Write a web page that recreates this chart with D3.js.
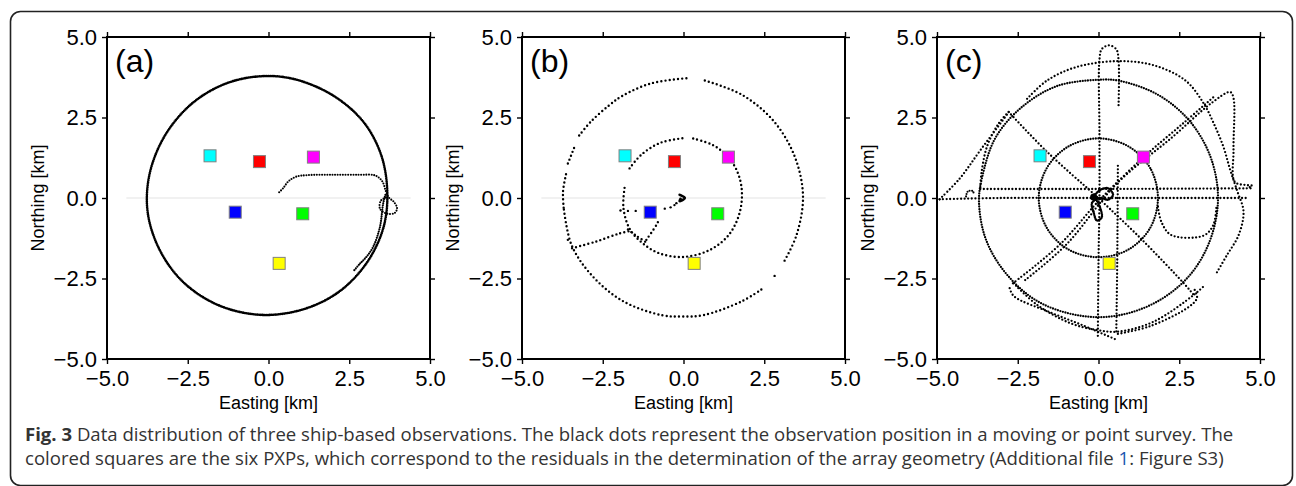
<!DOCTYPE html>
<html>
<head>
<meta charset="utf-8">
<script src="https://cdn.jsdelivr.net/npm/d3@7"></script>
<style>
  body { margin: 0; background: #fff; }
  svg { display: block; }
  .tick text { font-family: "Liberation Sans", Arial, Helvetica, sans-serif; }
</style>
</head>
<body>
<svg id="fig" width="1296" height="486"></svg>
<script>
// ---- data (km) ----
const AXIS_TICKS = [-5, -2.5, 0, 2.5, 5];
const PANEL_LABELS = ["(a)", "(b)", "(c)"];

// six PXPs (same in every panel)
const pxpEast  = [-1.81, -0.28, 1.39, -1.03, 1.06, 0.33];
const pxpNorth = [ 1.31,  1.13, 1.27, -0.44, -0.49, -2.03];
const pxpColors = ["#00ffff", "#ff0000", "#ff00ff", "#0000ff", "#00ff00", "#ffff00"];

// (a) moving survey
const aRing = [[3.68,0.10],[3.50,1.30],[2.95,2.35],[2.05,3.15],[0.95,3.65],[-0.05,3.79],[-1.25,3.58],
  [-2.35,2.95],[-3.20,1.95],[-3.68,0.75],[-3.74,-0.45],[-3.35,-1.65],[-2.60,-2.65],[-1.50,-3.35],
  [-0.20,-3.63],[1.10,-3.45],[2.20,-2.90],[3.05,-2.00],[3.55,-0.95]];
const aInnerPass = [[3.62,0.10],[3.55,-0.17],[3.45,-0.90],[3.24,-1.52],[3.03,-1.83],[2.83,-2.04],[2.65,-2.25]];
const aRunIn = [[0.33,0.18],[0.45,0.30],[0.62,0.52],[0.85,0.66],[1.20,0.71],[2.00,0.72],[2.80,0.72],
  [3.30,0.70],[3.52,0.52],[3.63,0.22],[3.72,0.02],[3.88,-0.12],[3.98,-0.32],[3.90,-0.47],[3.65,-0.48],
  [3.45,-0.33],[3.48,-0.08],[3.66,0.02]];

// (b) point survey
const bOuter1 = [[-3.71,-0.30],[-3.73,0.20],[-3.63,0.77]];
const bOuter2 = [[-3.58,1.07],[-3.37,1.60]];
const bOuter3 = [[-3.23,1.94],[-2.86,2.38],[-2.30,2.88],[-1.88,3.18],[-1.00,3.56],[0.09,3.72]];
const bOuter4 = [[0.66,3.65],[1.82,3.20],[2.80,2.38],[3.45,1.27],[3.70,0.05],[3.50,-1.15],[3.10,-2.00]];
const bOuter5 = [[2.41,-2.84],[1.82,-3.20],[0.61,-3.64],[-0.07,-3.68],[-0.67,-3.64],[-1.88,-3.20],
  [-2.86,-2.38],[-3.47,-1.45],[-3.71,-0.30]];
const bInner1 = [[-1.67,0.92],[-1.30,1.35],[-0.70,1.72],[0.09,1.87]];
const bInner2 = [[0.30,1.85],[0.90,1.65],[1.30,1.35],[1.62,0.92],[1.80,0.30],[1.74,-0.45],[1.40,-1.15],
  [0.80,-1.62],[0.00,-1.83],[-0.74,-1.72],[-1.26,-1.41],[-1.67,-0.95],[-1.86,-0.30],[-1.82,0.35]];
const bSpoke = [[-3.45,-1.56],[-2.70,-1.35],[-1.98,-1.10],[-1.62,-1.02]];
const bBundle1 = [[-1.72,-0.98],[-1.45,-1.18],[-1.15,-1.38]];
const bBundle2 = [[-1.15,-1.30],[-0.84,-0.84],[-0.78,-0.72]];
const bCentre = [[-0.12,0.10],[0.04,0.00],[-0.12,-0.10],[-0.08,0.00]];
const bStray = [[2.82,-2.42],[-1.95,-0.39],[-1.72,-0.40],[-1.48,-0.40],[-0.58,-0.33],[-0.40,-0.29],
  [-0.22,-0.16],[-0.28,-0.22],[-3.58,-1.30]];

// (c) moving survey with cross lines
const cRing = [[3.70,0.00],[3.47,1.27],[2.83,2.38],[1.85,3.20],[0.64,3.64],[-0.02,3.67],[-1.30,3.47],
  [-2.40,2.80],[-3.20,1.85],[-3.60,0.65],[-3.70,-0.10],[-3.50,-1.25],[-2.90,-2.30],[-1.90,-3.20],
  [-0.60,-3.65],[0.60,-3.65],[1.85,-3.20],[2.85,-2.37],[3.47,-1.27]];
const cInner = [[1.84,0.00],[1.60,0.93],[0.93,1.60],[0.00,1.85],[-0.93,1.60],[-1.60,0.93],[-1.85,0.00],
  [-1.60,-0.93],[-0.93,-1.60],[0.00,-1.84],[0.93,-1.60],[1.60,-0.93]];
const cWide = [[-2.21,3.08],[-1.59,3.65],[-0.67,4.07],[0.62,4.25],[1.71,4.12],[2.69,3.65],[3.26,2.93],
  [3.57,2.31],[3.87,1.58],[4.08,0.86],[4.30,0.20],[4.49,-0.42],[4.34,-1.15],[3.98,-1.77],[3.62,-2.39]];
const cHairpin = [[-0.02,-4.28],[0.00,-2.00],[0.03,0.00],[0.03,2.00],[0.03,4.30],[0.10,4.62],[0.32,4.74],
  [0.55,4.62],[0.62,4.30],[0.62,2.83]];
const cNorthSouth = [[0.60,1.00],[0.58,-2.00],[0.55,-4.20]];
const cEastWest1 = [[-3.66,0.28],[0.00,0.28],[4.72,0.30]];
const cEastWest2 = [[-4.92,-0.04],[-3.00,0.00],[0.00,0.00],[4.60,0.00]];
const cFlank = [[-4.92,-0.04],[-4.30,0.60],[-3.66,1.48],[-2.78,2.67],[-3.10,2.30],[-3.45,1.60],
  [-3.62,0.80],[-3.66,0.28]];
const cHook = [[-4.10,0.05],[-4.05,0.20],[-3.90,0.22],[-3.85,0.10]];
const cDiagNW = [[-2.78,2.67],[-1.59,1.43],[-0.15,0.13],[0.10,-0.10],[1.30,-1.25],[2.64,-2.65],[2.95,-3.01]];
const cDiagNE1 = [[-2.65,-2.65],[-1.20,-1.45],[0.00,-0.10],[1.40,1.27],[2.60,2.30],[3.57,3.14]];
const cDiagNE2 = [[-2.27,-2.55],[-1.00,-1.45],[0.57,0.45],[2.30,1.90],[3.50,2.95],[4.08,3.29],
  [4.18,3.10],[4.18,1.50],[4.22,0.50],[4.60,0.40],[4.76,0.38],[4.60,0.30]];
const cLoopE = [[1.84,-0.27],[1.95,-0.75],[2.25,-1.15],[3.25,-1.17],[3.55,-0.85],[3.65,-0.30]];
const cSouth1 = [[-2.63,-2.65],[-1.90,-3.32],[-0.87,-3.89],[-0.05,-4.10],[0.62,-4.15],[1.71,-3.84],[2.95,-3.01],[3.30,-2.70]];
const cSouth2 = [[-2.75,-2.80],[-2.62,-3.05],[-1.50,-3.55],[-0.50,-3.95],[0.55,-4.40]];
const cSouth3 = [[0.60,-4.22],[1.60,-3.98],[2.80,-3.38],[3.05,-3.10],[2.95,-2.80]];
const cCentre = [[-0.15,0.05],[0.05,0.25],[0.30,0.30],[0.45,0.10],[0.30,-0.05],[0.05,0.00],[-0.20,-0.15],
  [-0.15,-0.45],[-0.05,-0.70],[0.10,-0.60],[0.05,-0.30],[-0.10,0.00]];
const cStray = [[-0.15,0.03]];

// ---- layout ----
const svg = d3.select("#fig");
const panelLeft = [107, 522, 937];
const panelTop = 37, panelW = 323, panelH = 322;

const dense  = { w: 2.6, gap: 1.8 };
const sparse = { w: 2.4, gap: 4.2 };
const medium = { w: 2.3, gap: 3.6 };
const ringC  = { w: 2.3, gap: 2.6 };

const panels = [
  { tracks: [
      { pts: aRing, closed: true, s: dense },
      { pts: aInnerPass, s: { w: 2.2, gap: 2.2 } },
      { pts: aRunIn, s: { w: 2.1, gap: 2.6 } } ], stray: [] },
  { tracks: [bOuter1, bOuter2, bOuter3, bOuter4, bOuter5, bInner1, bInner2, bSpoke, bBundle1, bBundle2]
      .map(p => ({ pts: p, s: sparse }))
      .concat([{ pts: bCentre, s: { w: 2.6, gap: 1 } }]), stray: bStray },
  { tracks: [
      { pts: cRing, closed: true, s: ringC },
      { pts: cInner, closed: true, s: ringC },
      { pts: cWide, s: medium }, { pts: cHairpin, s: medium }, { pts: cNorthSouth, s: medium },
      { pts: cEastWest1, s: medium }, { pts: cEastWest2, s: medium }, { pts: cFlank, s: medium },
      { pts: cHook, s: { w: 2.1, gap: 2.4 } }, { pts: cDiagNW, s: medium }, { pts: cDiagNE1, s: medium },
      { pts: cDiagNE2, s: medium }, { pts: cLoopE, s: medium }, { pts: cSouth1, s: medium },
      { pts: cSouth2, s: medium }, { pts: cSouth3, s: medium },
      { pts: cCentre, s: { w: 2.4, gap: 1.6 } } ], stray: cStray, strayR: 3.5 }
];

// outer frame of the figure box
svg.append("rect")
  .attr("x", 10.5).attr("y", 11.5)
  .attr("width", 1282).attr("height", 474)
  .attr("rx", 10).attr("ry", 10)
  .attr("fill", "none").attr("stroke", "#222").attr("stroke-width", 1.6);

const fmt = d3.format(".1f");

panels.forEach((p, i) => {
  const g = svg.append("g").attr("transform", `translate(${panelLeft[i]},${panelTop})`);

  const x = d3.scaleLinear().domain([-5, 5]).range([0, panelW]);
  const y = d3.scaleLinear().domain([-5, 5]).range([panelH, 0]);

  // faint zero line
  g.append("line")
    .attr("x1", x(-4.4)).attr("x2", x(4.4))
    .attr("y1", y(0)).attr("y2", y(0))
    .attr("stroke", "#e3e3e3").attr("stroke-width", 1.2);

  // tracks as dotted paths
  const line = d3.line().x(d => x(d[0])).y(d => y(d[1])).curve(d3.curveCatmullRom.alpha(0.5));
  const ring = d3.line().x(d => x(d[0])).y(d => y(d[1])).curve(d3.curveCatmullRomClosed.alpha(0.5));

  g.selectAll(".track").data(p.tracks).join("path")
    .attr("class", "track")
    .attr("d", t => (t.closed ? ring : line)(t.pts))
    .attr("fill", "none")
    .attr("stroke", "#000")
    .attr("stroke-width", t => t.s.w)
    .attr("stroke-linecap", "round")
    .attr("stroke-dasharray", t => `0 ${t.s.gap}`);

  g.selectAll(".stray").data(p.stray).join("circle")
    .attr("class", "stray")
    .attr("cx", d => x(d[0])).attr("cy", d => y(d[1]))
    .attr("r", p.strayR || 1.2)
    .attr("fill", "#000");

  // PXP squares
  g.selectAll(".pxp").data(pxpEast).join("rect")
    .attr("class", "pxp")
    .attr("x", (d, k) => x(d) - 6)
    .attr("y", (d, k) => y(pxpNorth[k]) - 6)
    .attr("width", 12).attr("height", 12)
    .attr("fill", (d, k) => pxpColors[k])
    .attr("stroke", "#808080").attr("stroke-width", 1);

  // axes, ticks outward on all four sides
  const styleAxis = sel => {
    sel.select(".domain").remove();
    sel.selectAll(".tick line").attr("stroke", "#000").attr("stroke-width", 1.4);
    sel.selectAll(".tick text").attr("fill", "#000").attr("font-size", 22);
  };
  g.append("g").attr("transform", `translate(0,${panelH})`)
    .call(d3.axisBottom(x).tickValues(AXIS_TICKS).tickFormat(fmt).tickSize(5).tickPadding(6))
    .call(styleAxis);
  g.append("g")
    .call(d3.axisLeft(y).tickValues(AXIS_TICKS).tickFormat(fmt).tickSize(5).tickPadding(5))
    .call(styleAxis);
  g.append("g")
    .call(d3.axisTop(x).tickValues(AXIS_TICKS).tickFormat("").tickSize(5))
    .call(styleAxis);
  g.append("g").attr("transform", `translate(${panelW},0)`)
    .call(d3.axisRight(y).tickValues(AXIS_TICKS).tickFormat("").tickSize(5))
    .call(styleAxis);

  g.append("rect")
    .attr("width", panelW).attr("height", panelH)
    .attr("fill", "none").attr("stroke", "#000").attr("stroke-width", 2);

  // labels
  g.append("text")
    .attr("x", 8).attr("y", 35)
    .attr("font-family", "Liberation Sans, Arial, sans-serif")
    .attr("font-size", 32)
    .text(PANEL_LABELS[i]);

  g.append("text")
    .attr("x", panelW / 2).attr("y", panelH + 50)
    .attr("text-anchor", "middle")
    .attr("font-family", "Liberation Sans, Arial, sans-serif")
    .attr("font-size", 18)
    .text("Easting [km]");

  g.append("text")
    .attr("transform", `translate(-63,${panelH / 2}) rotate(-90)`)
    .attr("text-anchor", "middle")
    .attr("font-family", "Liberation Sans, Arial, sans-serif")
    .attr("font-size", 18)
    .text("Northing [km]");
});

// caption
const cap = svg.append("g")
  .attr("font-family", "Open Sans, Noto Sans, sans-serif")
  .attr("fill", "#333");

const cap1 = cap.append("text").attr("x", 25).attr("y", 441).attr("font-size", 15);
cap1.append("tspan").attr("font-weight", "bold").text("Fig. 3");
cap1.append("tspan").text(" Data distribution of three ship-based observations. The black dots represent the observation position in a moving or point survey. The");

const cap2 = cap.append("text").attr("x", 25).attr("y", 465).attr("font-size", 15);
cap2.append("tspan").text("colored squares are the six PXPs, which correspond to the residuals in the determination of the array geometry (Additional file ");
cap2.append("tspan").attr("fill", "#1a56b0").text("1");
cap2.append("tspan").text(": Figure S3)");

// fit caption to the column width of the original
const w1 = cap1.node().getComputedTextLength();
const fs = 15 * 1209 / w1;
cap1.attr("font-size", fs);
cap2.attr("font-size", fs);
</script>
</body>
</html>
